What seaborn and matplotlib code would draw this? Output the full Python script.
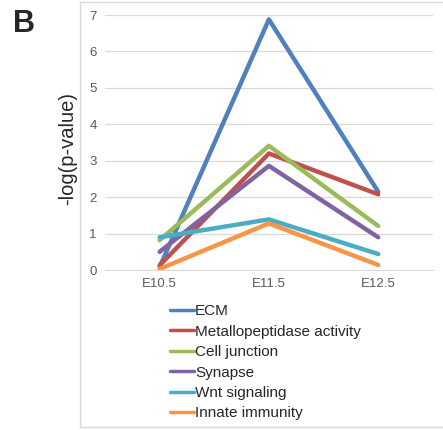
import seaborn as sns
import pandas as pd
import matplotlib.pyplot as plt
from matplotlib.patches import Rectangle

stages = ['E10.5', 'E11.5', 'E12.5']
terms = ['ECM', 'Metallopeptidase activity', 'Cell junction',
         'Synapse', 'Wnt signaling', 'Innate immunity']
ecm = [0.08, 6.88, 2.15]
metallo = [0.13, 3.20, 2.08]
cell_junction = [0.82, 3.41, 1.21]
synapse = [0.50, 2.86, 0.90]
wnt = [0.90, 1.39, 0.44]
innate = [0.03, 1.28, 0.14]
colors = ['#4F81BD', '#C0504D', '#9BBB59', '#8064A2', '#4BACC6', '#F79646']

series = [ecm, metallo, cell_junction, synapse, wnt, innate]
rows = []
for t, vals in zip(terms, series):
    for s, v in zip(stages, vals):
        rows.append({'stage': s, 'term': t, 'value': v})
df = pd.DataFrame(rows)

sns.set_style('white')
plt.rcParams['font.family'] = ['Liberation Sans', 'DejaVu Sans']

fig = plt.figure(figsize=(4.43, 4.30), dpi=100)
ax = fig.add_axes([0.237, 0.372, 0.740, 0.593])

sns.lineplot(data=df, x='stage', y='value', hue='term', hue_order=terms,
             palette=colors, linewidth=3.2, ax=ax, sort=False)

ax.set_xlim(-0.5, 2.5)
ax.set_ylim(0, 7)
ax.set_yticks(range(8))
ax.yaxis.grid(True, color='#D9D9D9', linewidth=0.9)
ax.set_axisbelow(True)
for sp in ['left', 'right', 'top']:
    ax.spines[sp].set_visible(False)
ax.spines['bottom'].set_color('#D9D9D9')
ax.tick_params(axis='both', length=0, labelsize=9.5, colors='#595959', pad=6)
ax.set_xlabel('')
ax.set_ylabel('')

fig.text(0.153, 0.655, '-log(p-value)', rotation=90, fontsize=14.5,
         ha='center', va='center')
fig.text(0.03, 0.945, 'B', fontsize=22, fontweight='bold', va='center')

leg = ax.legend(loc='upper left', bbox_to_anchor=(0.366, 0.31),
                bbox_transform=fig.transFigure, frameon=False,
                fontsize=11, handlelength=1.6, handletextpad=0.05,
                labelspacing=0.42, borderpad=0)
for line in leg.get_lines():
    line.set_linewidth(2.5)

fig.patches.append(Rectangle((0.181, 0.007), 0.83, 0.988,
                             transform=fig.transFigure, fill=False,
                             edgecolor='#D9D9D9', linewidth=1))

fig.savefig('out.png', dpi=100)
